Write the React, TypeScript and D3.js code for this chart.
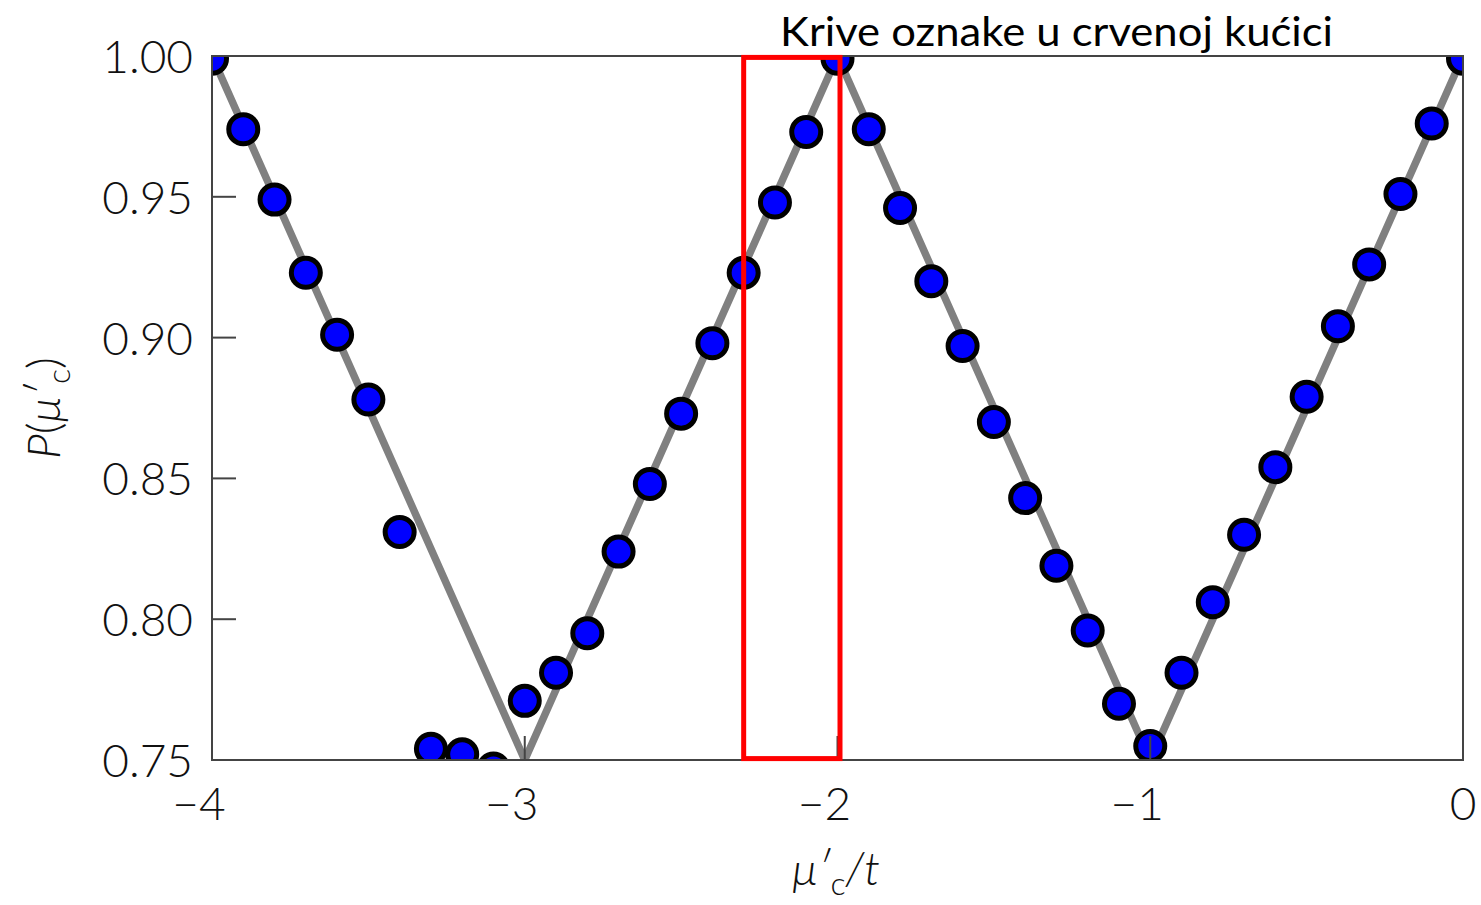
import React from "react";
import * as d3 from "d3";

const pointX = [
  -4.0, -3.9, -3.8, -3.7, -3.6, -3.5, -3.4, -3.3, -3.2, -3.1, -3.0, -2.9, -2.8, -2.7, -2.6, -2.5, -2.4, -2.3, -2.2,
  -2.1, -2.0, -1.9, -1.8, -1.7, -1.6, -1.5, -1.4, -1.3, -1.2, -1.1, -1.0, -0.9, -0.8, -0.7, -0.6, -0.5, -0.4, -0.3,
  -0.2, -0.1, 0.0,
];
const pointY = [
  0.999, 0.974, 0.949, 0.923, 0.901, 0.878, 0.831, 0.754, 0.752, 0.747, 0.771, 0.781, 0.795, 0.824, 0.848, 0.873,
  0.898, 0.923, 0.948, 0.973, 0.999, 0.974, 0.946, 0.92, 0.897, 0.87, 0.843, 0.819, 0.796, 0.77, 0.755, 0.781, 0.806,
  0.83, 0.854, 0.879, 0.904, 0.926, 0.951, 0.976, 0.999,
];
const lineX = [-4, -3, -2, -1, 0];
const lineY = [1.0, 0.75, 1.0, 0.75, 1.0];
const xTicks = [-4, -3, -2, -1, 0];
const yTicks = [0.75, 0.8, 0.85, 0.9, 0.95, 1.0];
const boxX = [-2.3, -1.992];
const boxY = [0.7505, 0.9995];
const title = "Krive oznake u crvenoj kućici";

const W = 1481;
const H = 905;
const L = 212;
const R = 1463;
const T = 56;
const B = 760;

export default function App() {
  const x = d3.scaleLinear().domain([-4, 0]).range([L, R]);
  const y = d3.scaleLinear().domain([0.75, 1.0]).range([B, T]);
  const lineData = lineX.map((v, i) => [v, lineY[i]] as [number, number]);
  const linePath = d3
    .line<[number, number]>()
    .x((d) => x(d[0]))
    .y((d) => y(d[1]))(lineData) as string;
  const numFont = "Lato, 'Open Sans', sans-serif";
  const fmtY = d3.format(".2f");
  const fmtX = (v: number) => (v < 0 ? "\u2212" + Math.abs(v) : String(v));

  return (
    <svg
      width={W}
      height={H}
      style={{ position: "absolute", left: 0, top: 0, background: "#fff" }}
    >
      <defs>
        <clipPath id="plotclip">
          <rect x={L} y={T} width={R - L} height={B - T} />
        </clipPath>
      </defs>
      <rect x={0} y={0} width={W} height={H} fill="#fff" />
      <g clipPath="url(#plotclip)">
        <path d={linePath} fill="none" stroke="#808080" strokeWidth={7.5} strokeLinejoin="miter" />
        {pointX.map((v, i) => (
          <circle
            key={i}
            cx={x(v)}
            cy={y(pointY[i])}
            r={14.5}
            fill="#0000ff"
            stroke="#000"
            strokeWidth={5}
          />
        ))}
      </g>
      {/* ticks */}
      {yTicks.map((t) => (
        <line key={"yt" + t} x1={L} x2={L + 24} y1={y(t)} y2={y(t)} stroke="#444" strokeWidth={2} />
      ))}
      {xTicks.map((t) => (
        <line key={"xt" + t} x1={x(t)} x2={x(t)} y1={B} y2={B - 24} stroke="#444" strokeWidth={2} />
      ))}
      <rect x={L} y={T} width={R - L} height={B - T} fill="none" stroke="#444" strokeWidth={2} />
      {/* tick labels */}
      {yTicks.map((t) => (
        <text
          key={"yl" + t}
          x={193}
          y={y(t) + 17}
          textAnchor="end"
          fontFamily={numFont}
          fontWeight={300}
          fontSize={46}
          fill="#111"
        >
          {fmtY(t)}
        </text>
      ))}
      {xTicks.map((t) => (
        <text
          key={"xl" + t}
          x={x(t) + (t < 0 ? -13 : 0)}
          y={820}
          textAnchor="middle"
          fontFamily={numFont}
          fontWeight={300}
          fontSize={46}
          fill="#111"
        >
          {fmtX(t)}
        </text>
      ))}
      {/* axis titles */}
      <text x={836} y={885} textAnchor="middle" fontFamily={numFont} fontWeight={300} fontSize={46} fill="#111">
        <tspan fontStyle="italic">μ′</tspan>
        <tspan fontSize={32} dy={10}>c</tspan>
        <tspan fontStyle="italic" dy={-10}>/t</tspan>
      </text>
      <text
        transform={`translate(60, 408) rotate(-90)`}
        textAnchor="middle"
        fontFamily={numFont}
        fontWeight={300}
        fontSize={46}
        fill="#111"
      >
        <tspan fontStyle="italic">P</tspan>
        <tspan>(</tspan>
        <tspan fontStyle="italic">μ′</tspan>
        <tspan fontSize={32} dy={10}>c</tspan>
        <tspan dy={-10}>)</tspan>
      </text>
      {/* red annotation box */}
      <rect
        x={x(boxX[0])}
        y={y(boxY[1])}
        width={x(boxX[1]) - x(boxX[0])}
        height={y(boxY[0]) - y(boxY[1])}
        fill="none"
        stroke="#ff0000"
        strokeWidth={5}
      />
      <text
        x={780}
        y={46}
        fontFamily="Lato, 'Open Sans', sans-serif"
        fontSize={40}
        fill="#000"
        textLength={553}
        lengthAdjust="spacingAndGlyphs"
      >
        {title}
      </text>
    </svg>
  );
}
